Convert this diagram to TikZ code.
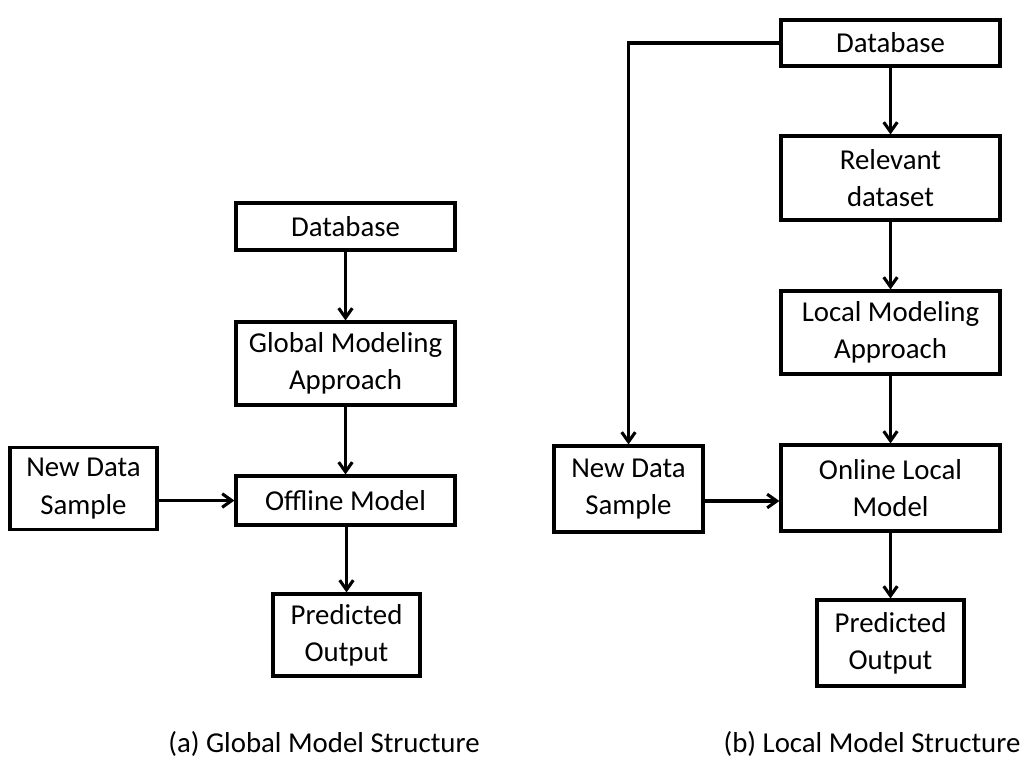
\documentclass[tikz,border=0pt]{standalone}
\usepackage{fontspec}
\setmainfont{Carlito}
\usetikzlibrary{arrows.meta}
\tikzset{
	block/.style={draw=black, line width=2.2pt, inner sep=0pt, align=center, font=\fontsize{20.5}{26.5}\selectfont, text=black},
	wide/.style={block, minimum width=5.475cm},
	narrow/.style={block, minimum width=3.675cm},
	line/.style={line width=2.2pt, draw=black},
	arr/.style={line, -{Straight Barb[length=2.4mm, width=3.4mm, line width=2.2pt]}},
	caption/.style={font=\fontsize{20.5}{26}\selectfont, text=black}
}
\begin{document}
\begin{tikzpicture}[x=0.025cm, y=-0.025cm]

	\useasboundingbox (0, 0) rectangle (1026, 772);

	% --- (a) global ---
	\node[wide, minimum height=1.175cm] (db1) at (345.5, 226.5) {Database};
	\node[wide, minimum height=2.075cm] (gma) at (345.5, 363.5) {Global Modeling\\Approach};
	\node[wide, minimum height=1.225cm] (off) at (345.5, 500.5) {Offline Model};
	\node[narrow, minimum height=2.05cm] (nds1) at (83.5, 488.5) {New Data\\Sample};
	\node[narrow, minimum height=2.05cm] (po1) at (346.5, 635) {Predicted\\Output};

	\draw[arr] (db1) -- (gma);
	\draw[arr] (gma) -- (off);
	\draw[arr] (nds1.east |- off.west) -- (off.west);
	\draw[arr] (off.south -| po1.north) -- (po1.north);

	\node[caption] (capa) at (324, 744) {(a) Global Model Structure};

	% --- (b) local ---
	\node[wide, minimum height=1.15cm] (db2) at (890.5, 43) {Database};
	\node[wide, minimum height=2.1cm] (rel) at (890.5, 178) {Relevant\\dataset};
	\node[wide, minimum height=2.075cm] (lma) at (890.5, 332.5) {Local Modeling\\Approach};
	\node[wide, minimum height=2.15cm] (olm) at (890.5, 488) {Online Local\\Model};
	\node[narrow, minimum height=2.15cm, minimum width=3.725cm] (nds2) at (628.5, 489) {New Data\\Sample};
	\node[narrow, minimum height=2.15cm] (po2) at (890.5, 643) {Predicted\\Output};

	\draw[arr] (db2) -- (rel);
	\draw[arr] (rel) -- (lma);
	\draw[arr] (lma) -- (olm);
	\draw[arr] (olm) -- (po2);
	\draw[arr] (db2.west) -| (nds2.north);
	\draw[arr] ([yshift=-0.3cm]nds2.east) -- ([yshift=-0.3cm]nds2.east -| olm.west);

	\node[caption] (capb) at (872, 744) {(b) Local Model Structure};

\end{tikzpicture}
\end{document}
